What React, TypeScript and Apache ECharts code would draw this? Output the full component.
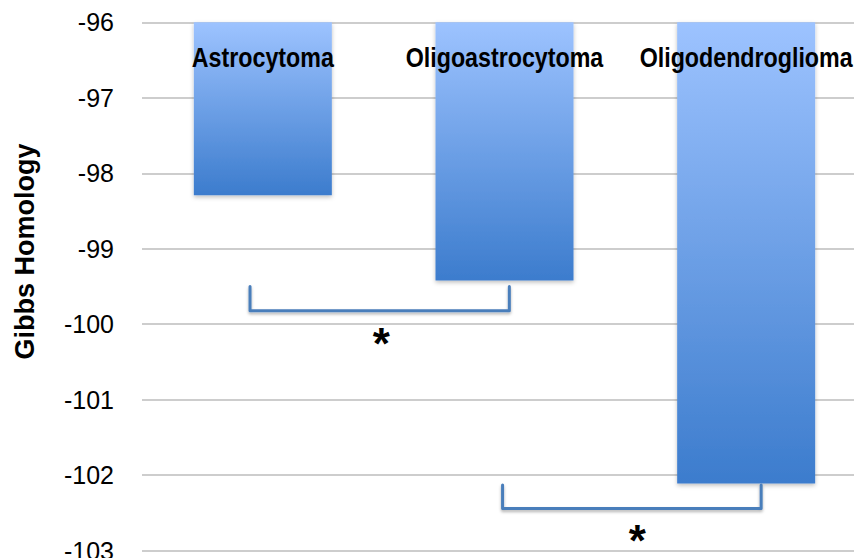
import React, { useEffect, useRef } from 'react';
import * as echarts from 'echarts';

const categories = ['Astrocytoma', 'Oligoastrocytoma', 'Oligodendroglioma'];
const gibbsValues = [-98.29, -99.42, -102.11];
const yMin = -103;
const yMax = -96;
const yInterval = 1;
const yAxisName = 'Gibbs Homology';

// significance brackets, positions in category-index units and axis values
const bracketFrom = [-0.053, 0.992];
const bracketTo = [1.02, 2.062];
const bracketTop = [-99.5, -102.13];
const bracketBottom = [-99.82, -102.44];
const starPos = [0.49, 1.55];
const starValue = [-100.17, -102.79];
const starLabels = ['*', '*'];

export default function App() {
  const ref = useRef<HTMLDivElement>(null);
  useEffect(() => {
    if (!ref.current) return;
    const chart = echarts.init(ref.current, null, { renderer: 'svg' });
    chart.setOption({
      animation: false,
      backgroundColor: '#ffffff',
      grid: {
        left: 142,
        right: -13,
        top: 22.3,
        bottom: 7.3,
        containLabel: false,
        outerBoundsMode: 'none',
      },
      xAxis: {
        type: 'category',
        data: categories,
        position: 'top',
        axisLine: { show: false },
        axisTick: { show: false },
        axisLabel: { show: false },
      },
      yAxis: {
        type: 'value',
        min: yMin,
        max: yMax,
        interval: yInterval,
        startValue: yMax,
        name: yAxisName,
        nameLocation: 'middle',
        nameRotate: 90,
        nameGap: 104,
        nameTextStyle: {
          color: '#000',
          fontFamily: "'Liberation Sans', Arial, sans-serif",
          fontWeight: 'bold',
          fontSize: 27,
          padding: [0, 0, 0, 70],
        },
        axisLine: { show: false },
        axisTick: { show: false },
        axisLabel: {
          color: '#000',
          margin: 28,
          fontFamily: "'Liberation Sans', Arial, sans-serif",
          fontSize: 25,
        },
        splitLine: { lineStyle: { color: '#bdbdbd', width: 1.5 } },
      },
      series: [
        {
          type: 'bar',
          data: gibbsValues,
          barWidth: 138,
          itemStyle: {
            color: new echarts.graphic.LinearGradient(0, 0, 0, 1, [
              { offset: 0, color: '#9dc3ff' },
              { offset: 1, color: '#3c7ccd' },
            ]),
            shadowColor: 'rgba(0,0,0,0.25)',
            shadowBlur: 4,
            shadowOffsetY: 2,
          },
        },
      ],
    });

    const px = (idx: number, v: number) => {
      const p0 = chart.convertToPixel({ gridIndex: 0 }, [0, v]) as number[];
      const p1 = chart.convertToPixel({ gridIndex: 0 }, [1, v]) as number[];
      return [p0[0] + idx * (p1[0] - p0[0]), p0[1]];
    };

    const elements: any[] = [];
    // category names, drawn condensed inside the top of each bar
    categories.forEach((name, i) => {
      const p = px(i, yMax);
      elements.push({
        type: 'text',
        x: p[0],
        y: p[1] + 34.6,
        scaleX: 0.83,
        style: {
          text: name,
          fill: '#000',
          font: "bold 28px 'Liberation Sans', Arial, sans-serif",
          textAlign: 'center',
          textVerticalAlign: 'middle',
        },
        z: 30,
      });
    });
    for (let i = 0; i < bracketFrom.length; i++) {
      const a = px(bracketFrom[i], bracketTop[i]);
      const b = px(bracketFrom[i], bracketBottom[i]);
      const c = px(bracketTo[i], bracketBottom[i]);
      const d = px(bracketTo[i], bracketTop[i]);
      elements.push({
        type: 'polyline',
        shape: { points: [a, b, c, d] },
        style: {
          stroke: '#4a7ebb',
          lineWidth: 3,
          fill: 'none',
          lineJoin: 'round',
          lineCap: 'round',
          shadowColor: 'rgba(0,0,0,0.3)',
          shadowBlur: 3,
          shadowOffsetY: 2,
        },
        z: 20,
      });
      const s = px(starPos[i], starValue[i]);
      elements.push({
        type: 'text',
        x: s[0],
        y: s[1] + 6,
        style: {
          text: starLabels[i],
          fill: '#000',
          font: "bold 44px 'Liberation Sans', Arial, sans-serif",
          lineHeight: 20,
          textAlign: 'center',
          textVerticalAlign: 'middle',
        },
        z: 20,
      });
    }
    chart.setOption({ graphic: elements });

    return () => chart.dispose();
  }, []);
  return (
    <div
      ref={ref}
      style={{ position: 'fixed', left: 0, top: 0, width: 854, height: 558 }}
    />
  );
}
